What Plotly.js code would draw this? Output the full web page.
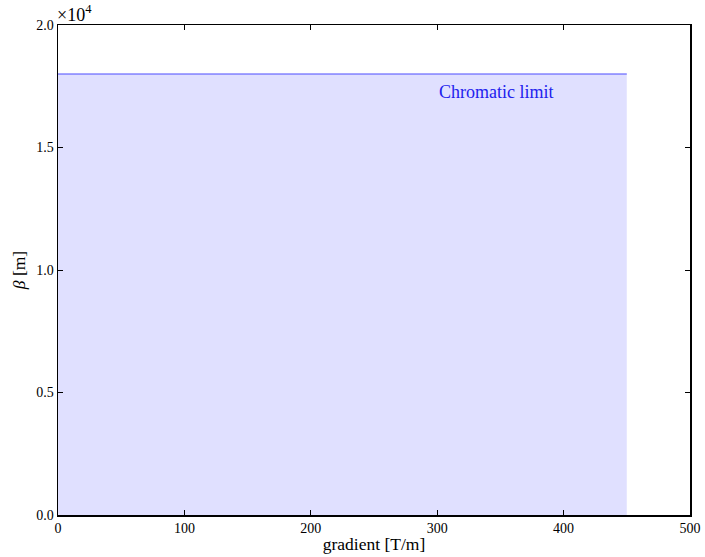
<!DOCTYPE html>
<html>
<head>
<meta charset="utf-8">
<script src="https://cdn.plot.ly/plotly-3.0.1.min.js"></script>
<style>html,body{margin:0;padding:0;background:#fff;}#chart{width:705px;height:557px;}</style>
</head>
<body>
<div id="chart"></div>
<script>
const gradient = [0, 450];
const beta = [18000, 18000];
const xTicks = [0, 100, 200, 300, 400, 500];
const yTicks = [0, 5000, 10000, 15000, 20000];
const yTickText = ["0.0", "0.5", "1.0", "1.5", "2.0"];
const labelText = "Chromatic limit";
const labelPos = [300, 17250];

const fam = "Liberation Serif, DejaVu Serif, serif";
const font = {family: fam, size: 14, color: "#000"};
const titleFont = {family: fam, size: 17.5, color: "#000"};

const data = [{
  x: gradient, y: beta, type: "scatter", mode: "lines",
  fill: "tozeroy",
  fillcolor: "rgba(0,0,255,0.12)",
  line: {color: "rgba(70,70,255,0.65)", width: 1.5},
  hoverinfo: "skip"
}];

const axisBase = {
  showgrid: false, zeroline: false, showline: true, mirror: "allticks",
  linecolor: "#000", linewidth: 1.5, ticks: "inside", ticklen: 5, tickwidth: 1,
  tickcolor: "#000", tickfont: font
};

const layout = {
  width: 705, height: 557,
  margin: {l: 57.5, r: 15, t: 25, b: 42},
  paper_bgcolor: "#fff", plot_bgcolor: "#fff",
  showlegend: false, font: font,
  xaxis: Object.assign({}, axisBase, {
    range: [0, 500], tickvals: xTicks, ticktext: xTicks.map(String),
    title: {text: "gradient [T/m]", font: titleFont, standoff: 2}
  }),
  yaxis: Object.assign({}, axisBase, {
    range: [0, 20000], tickvals: yTicks, ticktext: yTickText,
    title: {text: "<i>β</i> [m]", font: titleFont, standoff: 6}
  }),
  annotations: [
    {x: labelPos[0], y: labelPos[1], xref: "x", yref: "y", text: labelText,
     showarrow: false, xanchor: "left", yanchor: "middle",
     font: {family: fam, size: 18, color: "#2222ee"}},
    {x: 0, y: 1, xref: "paper", yref: "paper", text: "×10<sup>4</sup>",
     showarrow: false, xanchor: "left", yanchor: "bottom", yshift: -2, xshift: -3,
     font: {family: fam, size: 18, color: "#000"}}
  ]
};

Plotly.newPlot("chart", data, layout, {displayModeBar: false, staticPlot: true});
</script>
</body>
</html>
